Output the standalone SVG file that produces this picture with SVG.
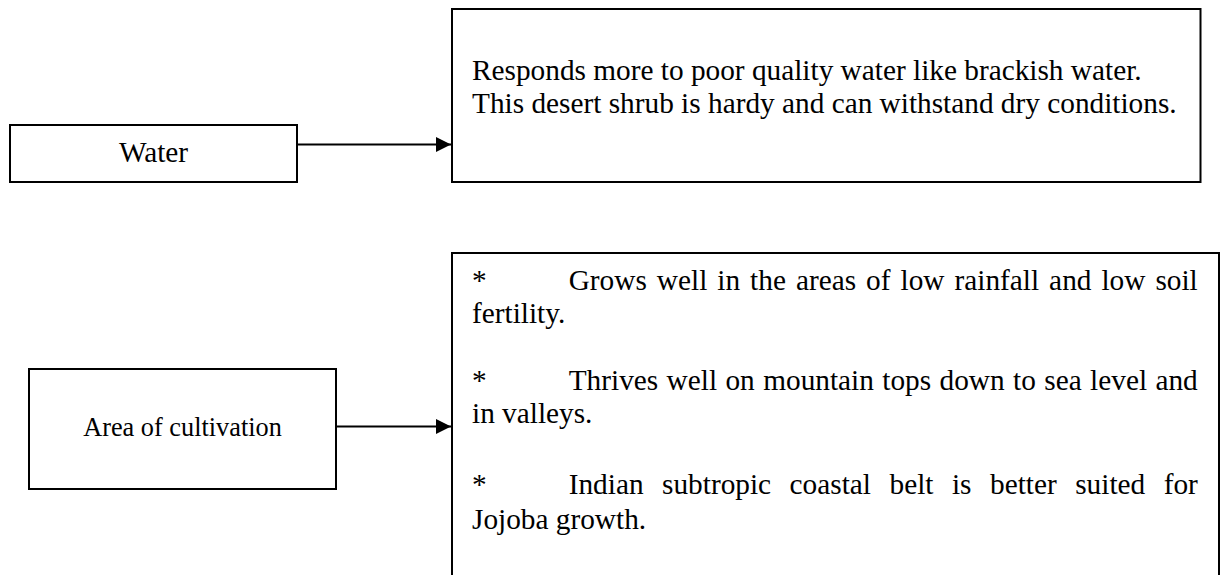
<svg xmlns="http://www.w3.org/2000/svg" width="1222" height="575" viewBox="0 0 1222 575">
<defs>
<style>
.box{fill:#fff;stroke:#000;stroke-width:2}
.t{font-family:"Liberation Serif","Times New Roman",serif;font-size:29.3px;fill:#000}
.s{font-size:26.3px}
.c{text-anchor:middle}
.conn{stroke:#000;stroke-width:2;fill:none}
</style>
<marker id="ah" markerUnits="userSpaceOnUse" markerWidth="16" markerHeight="16" refX="15" refY="7.5" orient="auto">
<path d="M0,0 L15,7.5 L0,15 Z" fill="#000"/>
</marker>
</defs>
<rect width="1222" height="575" fill="#fff"/>
<g id="connectors">
<line class="conn" x1="297" y1="144.5" x2="451" y2="144.5" marker-end="url(#ah)"/>
<line class="conn" x1="336" y1="426.5" x2="451" y2="426.5" marker-end="url(#ah)"/>
</g>
<g id="water">
<rect class="box" x="10" y="125" width="287" height="57"/>
<text class="t c" x="153.5" y="162">Water</text>
</g>
<g id="water-desc">
<rect class="box" x="452" y="9" width="748.5" height="173"/>
<text class="t" x="472" y="80">Responds more to poor quality water like brackish water.</text>
<text class="t" x="472" y="113">This desert shrub is hardy and can withstand dry conditions.</text>
</g>
<g id="area">
<rect class="box" x="29" y="369" width="307" height="120"/>
<text class="t s c" x="182.5" y="436">Area of cultivation</text>
</g>
<g id="area-desc">
<rect class="box" x="452" y="253" width="767" height="400"/>
<text class="t" x="472" y="290">*</text>
<text class="t" x="568.7" y="290" style="word-spacing:2.7px">Grows well in the areas of low rainfall and low soil</text>
<text class="t" x="472" y="323">fertility.</text>
<text class="t" x="472" y="390">*</text>
<text class="t" x="568.7" y="390" style="word-spacing:1.1px">Thrives well on mountain tops down to sea level and</text>
<text class="t" x="472" y="423">in valleys.</text>
<text class="t" x="472" y="494">*</text>
<text class="t" x="568.7" y="494" style="word-spacing:11.2px">Indian subtropic coastal belt is better suited for</text>
<text class="t" x="472" y="529">Jojoba growth.</text>
</g>
</svg>
